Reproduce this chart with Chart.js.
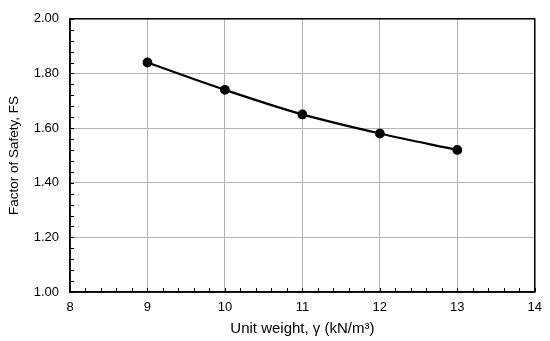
<!DOCTYPE html>
<html>
<head>
<meta charset="utf-8">
<script src="https://cdn.jsdelivr.net/npm/chart.js@4.4.1/dist/chart.umd.min.js"></script>
<style>
html,body{margin:0;padding:0;background:#fff;}
#wrap{width:550px;height:341px;position:relative;}
</style>
</head>
<body>
<div id="wrap"><canvas id="c" width="550" height="341"></canvas></div>
<script>
const unitWeight = [9, 10, 11, 12, 13];
const factorOfSafety = [1.84, 1.74, 1.65, 1.58, 1.52];
const xTitle = 'Unit weight, \u03B3 (kN/m\u00B3)';
const yTitle = 'Factor of Safety, FS';

const minorTicks = {
  id: 'minorTicks',
  afterDraw(chart) {
    const {ctx, chartArea: a, scales: {x, y}} = chart;
    ctx.save();
    ctx.strokeStyle = '#000';
    ctx.lineWidth = 1;
    ctx.beginPath();
    for (let i = 0; i <= 30; i++) {
      const px = Math.round(x.getPixelForValue(8 + i * 0.2)) + 0.5;
      ctx.moveTo(px, a.bottom);
      ctx.lineTo(px, a.bottom - 4);
    }
    for (let i = 0; i <= 25; i++) {
      const py = Math.round(y.getPixelForValue(1 + i * 0.04)) + 0.5;
      ctx.moveTo(a.left, py);
      ctx.lineTo(a.left + 4, py);
    }
    ctx.stroke();
    ctx.lineWidth = 1.5;
    ctx.strokeRect(a.left, a.top, a.right - a.left, a.bottom - a.top);
    ctx.restore();
  }
};

new Chart(document.getElementById('c'), {
  type: 'line',
  data: {
    datasets: [{
      data: unitWeight.map((v, i) => ({x: v, y: factorOfSafety[i]})),
      borderColor: '#000',
      backgroundColor: '#000',
      borderWidth: 2.2,
      pointRadius: 3.8,
      pointHoverRadius: 3.8,
      tension: 0.4,
      cubicInterpolationMode: 'monotone'
    }]
  },
  options: {
    responsive: false,
    animation: false,
    events: [],
    layout: {padding: {top: 12, right: 13, left: 0, bottom: 0}},
    plugins: {legend: {display: false}, tooltip: {enabled: false}},
    scales: {
      x: {
        type: 'linear', min: 8, max: 14,
        afterFit(s) { s.height = 49; },
        ticks: {stepSize: 1, padding: 8, color: '#000', font: {family: 'Liberation Sans, Arial', size: 13}},
        grid: {color: '#b4b4b4', lineWidth: 1, drawTicks: false},
        border: {color: '#000', width: 1.5},
        title: {display: true, text: xTitle, color: '#000', font: {family: 'Liberation Sans, Arial', size: 15}, padding: {top: 0, bottom: 3}}
      },
      y: {
        type: 'linear', min: 1, max: 2,
        afterFit(s) { s.width = 70; },
        ticks: {stepSize: 0.2, padding: 11, color: '#000', font: {family: 'Liberation Sans, Arial', size: 13}, callback: v => v.toFixed(2)},
        grid: {color: '#b4b4b4', lineWidth: 1, drawTicks: false},
        border: {color: '#000', width: 1.5},
        title: {display: true, text: yTitle, color: '#000', font: {family: 'Liberation Sans, Arial', size: 13.5}, padding: {top: 6.5, bottom: 0}}
      }
    }
  },
  plugins: [minorTicks]
});
</script>
</body>
</html>
